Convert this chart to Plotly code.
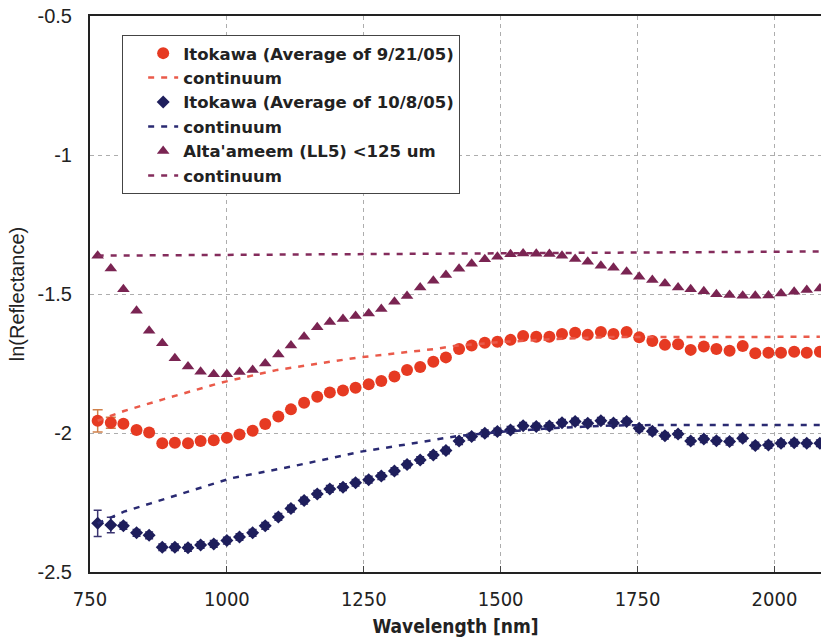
import plotly.graph_objects as go

wavelength = [764, 788, 811, 835, 858, 882, 905, 929, 952, 976, 1000, 1023, 1047, 1070, 1094,
              1117, 1141, 1165, 1188, 1212, 1235, 1259, 1282, 1306, 1329, 1353, 1377, 1400,
              1424, 1447, 1471, 1494, 1518, 1541, 1565, 1589, 1612, 1636, 1659, 1683, 1706,
              1730, 1753, 1777, 1800, 1824, 1847, 1871, 1894, 1918, 1942, 1965, 1989, 2012,
              2036, 2059, 2083]

itokawa_0921 = [-1.956, -1.963, -1.967, -1.989, -1.998, -2.037, -2.035, -2.037, -2.029, -2.026,
                -2.017, -2.005, -1.992, -1.968, -1.941, -1.915, -1.891, -1.870, -1.854, -1.847,
                -1.837, -1.825, -1.813, -1.797, -1.773, -1.763, -1.744, -1.728, -1.698, -1.685,
                -1.675, -1.672, -1.665, -1.651, -1.654, -1.654, -1.644, -1.639, -1.647, -1.637,
                -1.644, -1.637, -1.656, -1.669, -1.683, -1.681, -1.701, -1.689, -1.698, -1.704,
                -1.687, -1.713, -1.711, -1.711, -1.708, -1.711, -1.708]
itokawa_0921_err = [0.040, 0.020] + [0.0] * 55

itokawa_1008 = [-2.325, -2.331, -2.334, -2.359, -2.368, -2.411, -2.411, -2.413, -2.403, -2.399,
                -2.387, -2.374, -2.359, -2.334, -2.302, -2.272, -2.243, -2.219, -2.201, -2.195,
                -2.179, -2.168, -2.155, -2.137, -2.113, -2.097, -2.079, -2.063, -2.029, -2.013,
                -2.001, -1.995, -1.989, -1.974, -1.977, -1.975, -1.963, -1.959, -1.965, -1.956,
                -1.964, -1.959, -1.983, -1.994, -2.010, -2.004, -2.029, -2.022, -2.028, -2.031,
                -2.019, -2.045, -2.043, -2.037, -2.035, -2.037, -2.037]
itokawa_1008_err = [0.047, 0.028] + [0.012] * 55

altaameem = [-1.362, -1.408, -1.483, -1.560, -1.632, -1.677, -1.731, -1.761, -1.780, -1.789,
             -1.789, -1.781, -1.773, -1.750, -1.718, -1.685, -1.654, -1.620, -1.601, -1.590,
             -1.579, -1.570, -1.554, -1.528, -1.507, -1.477, -1.452, -1.432, -1.409, -1.391,
             -1.375, -1.366, -1.357, -1.354, -1.355, -1.356, -1.362, -1.374, -1.384, -1.398,
             -1.406, -1.420, -1.438, -1.450, -1.462, -1.477, -1.483, -1.490, -1.501, -1.504,
             -1.506, -1.506, -1.505, -1.498, -1.492, -1.486, -1.480]

cont_red_x = [764, 812, 885, 989, 1092, 1238, 1379, 1415, 1500, 1600, 1700, 1810, 2083]
cont_red_y = [-1.956, -1.921, -1.878, -1.819, -1.773, -1.729, -1.698, -1.687, -1.673, -1.662,
              -1.655, -1.654, -1.654]

cont_blue_x = [764, 812, 861, 940, 1007, 1117, 1245, 1347, 1420, 1500, 1600, 1700, 1803, 2083]
cont_blue_y = [-2.325, -2.283, -2.253, -2.205, -2.163, -2.121, -2.067, -2.035, -2.011, -1.996,
               -1.982, -1.973, -1.971, -1.971]

cont_tri_x = [764, 1560, 2083]
cont_tri_y = [-1.362, -1.352, -1.347]

x_ticks = [750, 1000, 1250, 1500, 1750, 2000]
y_ticks = [-0.5, -1, -1.5, -2, -2.5]

RED = "#E63A22"
RED_DASH = "#EA5A4A"
NAVY = "#1E1E5C"
NAVY_DASH = "#2A2A72"
MAROON = "#7A2452"
MAROON_DASH = "#842C5C"

fig = go.Figure()

fig.add_trace(go.Scatter(
    x=wavelength, y=itokawa_0921, mode="markers",
    name="Itokawa (Average of 9/21/05)",
    marker=dict(symbol="circle", size=12, color=RED),
    error_y=dict(type="data", array=itokawa_0921_err, color="#D0804A", thickness=1.5, width=5),
))
fig.add_trace(go.Scatter(
    x=cont_red_x, y=cont_red_y, mode="lines", name="continuum",
    line=dict(color=RED_DASH, width=2.5, dash="6px,7px"),
))
fig.add_trace(go.Scatter(
    x=wavelength, y=itokawa_1008, mode="markers",
    name="Itokawa (Average of 10/8/05)",
    marker=dict(symbol="diamond", size=10, color=NAVY),
    error_y=dict(type="data", array=itokawa_1008_err, color="#3A3470", thickness=1.5, width=4),
))
fig.add_trace(go.Scatter(
    x=cont_blue_x, y=cont_blue_y, mode="lines", name="continuum",
    line=dict(color=NAVY_DASH, width=2.5, dash="6px,7px"),
))
fig.add_trace(go.Scatter(
    x=wavelength, y=altaameem, mode="markers",
    name="Alta'ameem (LL5) <125 um",
    marker=dict(symbol="triangle-up", size=11, color=MAROON),
))
fig.add_trace(go.Scatter(
    x=cont_tri_x, y=cont_tri_y, mode="lines", name="continuum",
    line=dict(color=MAROON_DASH, width=2.5, dash="6px,7px"),
))

gothic = "Liberation Sans Narrow, DejaVu Sans Condensed, sans-serif"
arial = "Liberation Sans, Arial, sans-serif"

fig.update_layout(
    width=821, height=638,
    margin=dict(l=90, r=0, t=16, b=66),
    paper_bgcolor="white", plot_bgcolor="white",
    showlegend=True,
    legend=dict(
        x=0.044, y=0.966, xanchor="left", yanchor="top",
        bgcolor="white", bordercolor="#444", borderwidth=1,
        font=dict(family="DejaVu Sans, sans-serif", size=16.5, color="#222", weight="bold"),
        tracegroupgap=0, itemwidth=30, indentation=20,
    ),
    xaxis=dict(
        range=[750, 2085], tickvals=x_ticks, ticktext=[str(v) for v in x_ticks],
        showgrid=True, gridcolor="#ADADAD", griddash="4px,4px", gridwidth=1,
        showline=True, linecolor="#222", linewidth=2, mirror=True,
        ticks="inside", ticklen=6, tickcolor="#444", ticklabelstandoff=8,
        tickfont=dict(family=gothic, size=20, color="#222"),
        title=dict(text="Wavelength [nm]", font=dict(family=gothic, size=19, color="#222", weight="bold"), standoff=10),
        zeroline=False,
    ),
    yaxis=dict(
        range=[-2.5, -0.5], tickvals=y_ticks, ticktext=["-0.5", "-1", "-1.5", "-2", "-2.5"],
        showgrid=True, gridcolor="#ADADAD", griddash="4px,4px", gridwidth=1,
        showline=True, linecolor="#222", linewidth=2, mirror=False,
        ticks="", ticklabelstandoff=12,
        tickfont=dict(family=arial, size=20, color="#222"),
        title=dict(text="ln(Reflectance)", font=dict(family=arial, size=20, color="#222"), standoff=8),
        zeroline=False,
    ),
)

fig.write_html("out.html")
